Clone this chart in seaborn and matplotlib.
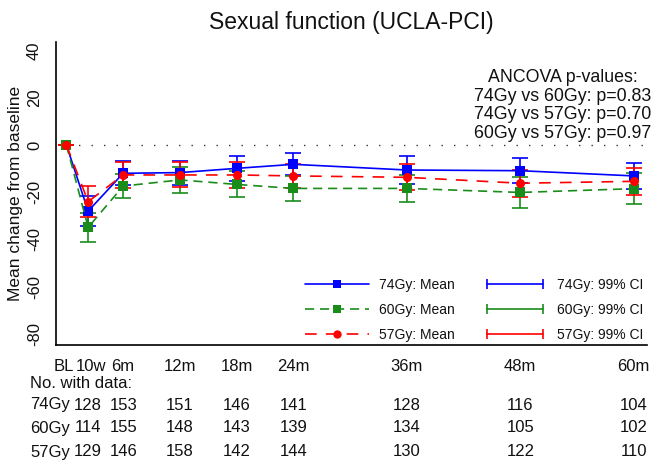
import matplotlib
matplotlib.use("Agg")
import matplotlib.pyplot as plt
import matplotlib.transforms as mtransforms
from matplotlib.lines import Line2D
import numpy as np
import pandas as pd
import seaborn as sns

# Visit schedule (months from baseline) and axis labels
visit_months = [0, 2.3, 6, 12, 18, 24, 36, 48, 60]
visit_labels = ["BL", "10w", "6m", "12m", "18m", "24m", "36m", "48m", "60m"]

# Mean change from baseline per arm
mean_74 = [0, -28.0, -12.0, -11.7, -9.9, -8.2, -10.6, -10.9, -13.1]
mean_60 = [0, -34.9, -17.4, -14.8, -16.7, -18.4, -18.4, -20.1, -18.5]
mean_57 = [0, -24.0, -12.7, -12.7, -12.7, -13.1, -13.7, -16.2, -15.4]

# Half-width of the 99% confidence interval per arm
ci_74 = [0, 6.5, 5.0, 5.1, 5.2, 4.7, 5.9, 5.4, 5.6]
ci_60 = [0, 6.1, 4.9, 5.4, 5.5, 5.2, 5.8, 6.6, 6.6]
ci_57 = [0, 6.6, 5.4, 5.3, 5.4, 5.2, 5.5, 5.8, 5.8]

# Number of patients with data at each follow-up visit (10w .. 60m)
n_74 = [128, 153, 151, 146, 141, 128, 116, 104]
n_60 = [114, 155, 148, 143, 139, 134, 105, 102]
n_57 = [129, 146, 158, 142, 144, 130, 122, 110]

arms = ["74Gy", "60Gy", "57Gy"]
colors = {"74Gy": "#0000ff", "60Gy": "#1a8c1a", "57Gy": "#ff0000"}
markers = {"74Gy": "s", "60Gy": "s", "57Gy": "o"}
dashes = {"74Gy": "", "60Gy": (5.5, 3.5), "57Gy": (7, 5.5)}

frames = []
for arm, m, c in zip(arms, [mean_74, mean_60, mean_57], [ci_74, ci_60, ci_57]):
    frames.append(pd.DataFrame({"month": visit_months, "mean": m, "ci": c, "arm": arm}))
df = pd.concat(frames, ignore_index=True)

sns.set_theme(style="white")
plt.rcParams["font.family"] = ["Liberation Sans", "DejaVu Sans"]

fig = plt.figure(figsize=(6.55, 4.63), dpi=100)
ax = fig.add_axes([56 / 655, 1 - 345 / 463, (647 - 56) / 655, (345 - 42) / 463])

# Reference line at zero change
ax.plot([0, 61.4], [0, 0], color="#333333", lw=1.0, ls=(0, (1, 8)), zorder=1)

for i, arm in enumerate(arms):
    sub = df[df["arm"] == arm]
    ax.errorbar(sub["month"], sub["mean"], yerr=sub["ci"], fmt="none",
                ecolor=colors[arm], elinewidth=1.2, capsize=5.5, capthick=1.2,
                zorder=2 + i)

sns.lineplot(data=df, x="month", y="mean", hue="arm", style="arm",
             hue_order=arms, style_order=arms, palette=colors,
             markers=markers, dashes=dashes, markersize=6.5,
             markeredgewidth=0, linewidth=1.2, legend=False, ax=ax,
             sort=False, zorder=5)

ax.set_xlim(-1.1, 61.4)
ax.set_ylim(-84.7, 43.6)
ax.set_xticks(visit_months)
ax.set_xticklabels(visit_labels)
ax.set_yticks([40, 20, 0, -20, -40, -60, -80])
ax.set_yticklabels(["40", "20", "0", "-20", "-40", "-60", "-80"],
                   rotation=90, va="center")
ax.tick_params(axis="both", which="major", length=6, width=1.2,
               color="black", direction="out", labelsize=12, labelcolor="#111111")
ax.tick_params(axis="x", pad=4)
ax.tick_params(axis="y", pad=4)

# The first two visits sit close together; nudge their labels apart a little
xlabels = ax.get_xticklabels()
for lbl, dx in zip(xlabels[:2], [-2.5, 2.5]):
    lbl.set_transform(lbl.get_transform() +
                      mtransforms.ScaledTranslation(dx / 100, 0, fig.dpi_scale_trans))

ax.set_xlabel("")
ax.set_ylabel("Mean change from baseline", fontsize=12.5, color="#111111", labelpad=3)
for side in ["top", "right"]:
    ax.spines[side].set_visible(False)
for side in ["left", "bottom"]:
    ax.spines[side].set_color("black")
    ax.spines[side].set_linewidth(1.2)

fig.text((56 + 647) / 2 / 655, 1 - 22 / 463, "Sexual function (UCLA-PCI)",
         ha="center", va="center", fontsize=16.5, color="#111111")

fig.text(563 / 655, 1 - 105.5 / 463,
         "ANCOVA p-values:\n74Gy vs 60Gy: p=0.83\n74Gy vs 57Gy: p=0.70\n60Gy vs 57Gy: p=0.97",
         ha="center", va="center", multialignment="center", fontsize=12.8,
         linespacing=1.15, color="#111111")

# Legends: means (line with marker) and CIs (line with end caps)
mean_handles = [Line2D([0], [0], color=colors[a], marker=markers[a], markersize=6,
                       markeredgewidth=0, lw=1.2,
                       ls="-" if dashes[a] == "" else (0, dashes[a]))
                for a in arms]
ci_handles = [Line2D([0, 1], [0, 0], color=colors[a], marker="|", markersize=7,
                     markeredgewidth=1.2, lw=1.2) for a in arms]
leg1 = ax.legend(mean_handles, [f"{a}: Mean" for a in arms], loc="center left",
                 bbox_to_anchor=(298 / 655, 1 - 310 / 463),
                 bbox_transform=fig.transFigure, frameon=False, fontsize=10,
                 handlelength=4.6, handletextpad=0.7, labelspacing=0.8,
                 numpoints=1, borderpad=0)
ax.add_artist(leg1)
leg2 = ax.legend(ci_handles, [f"{a}: 99% CI" for a in arms], loc="center left",
                 bbox_to_anchor=(476 / 655, 1 - 310 / 463),
                 bbox_transform=fig.transFigure, frameon=False, fontsize=10,
                 handlelength=4.6, handletextpad=0.7, labelspacing=0.8,
                 numpoints=2, borderpad=0)
for t in list(leg1.get_texts()) + list(leg2.get_texts()):
    t.set_color("#111111")

# Numbers at risk table below the axis
trans = mtransforms.blended_transform_factory(ax.transData, fig.transFigure)
fig.text(30 / 655, 1 - 383 / 463, "No. with data:", ha="left", va="center",
         fontsize=12, color="#111111")
for row_y, arm, counts in zip([405, 428, 452], arms, [n_74, n_60, n_57]):
    yf = 1 - row_y / 463
    fig.text(30 / 655, yf, arm, ha="left", va="center", fontsize=12, color="#111111")
    for xm, n in zip(visit_months[1:], counts):
        ax.text(xm, yf, str(n), transform=trans, ha="center", va="center",
                fontsize=12, color="#111111")

fig.savefig("out.png", dpi=100)
